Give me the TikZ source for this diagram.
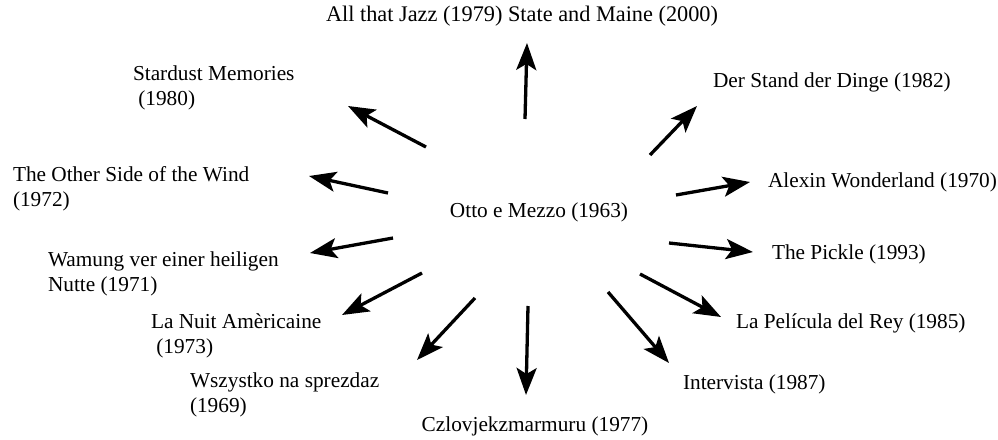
\documentclass[tikz,border=0pt]{standalone}
\usepackage{fontspec}
\setmainfont{Liberation Serif}
\usetikzlibrary{arrows.meta}
\begin{document}
\begin{tikzpicture}[x=1pt,y=-1pt,
  lbl/.style={inner sep=0pt,outer sep=0pt,align=left,anchor=base west,
    font=\fontsize{21.3}{25}\selectfont},
  arr/.style={line width=3.3pt,-{Stealth[length=27pt,width=20pt,inset=6pt]}}]
\useasboundingbox (0,0) rectangle (998,439);
% labels (multi-line labels: base = baseline of the last line)
\node[lbl,anchor=base,font=\fontsize{22.3}{25}\selectfont] (jazz) at (522,21) {All that Jazz (1979) State and Maine (2000)};
\node[lbl] (stardust) at (133,105) {Stardust Memories\\~(1980)};
\node[lbl] (other) at (13,206) {The Other Side of the Wind\\(1972)};
\node[lbl,anchor=base] (otto) at (539,217) {Otto e Mezzo (1963)};
\node[lbl] (stand) at (713,87) {Der Stand der Dinge (1982)};
\node[lbl] (alexin) at (768,187) {Alexin Wonderland (1970)};
\node[lbl] (wamung) at (48,291) {Wamung ver einer heiligen\\Nutte (1971)};
\node[lbl] (nuit) at (151,353) {La Nuit Amèricaine\\~(1973)};
\node[lbl] (wszystko) at (190,412) {Wszystko na sprezdaz\\(1969)};
\node[lbl,anchor=base] (czlov) at (535,431) {Czlovjekzmarmuru (1977)};
\node[lbl] (pickle) at (772,259) {The Pickle (1993)};
\node[lbl] (pelicula) at (736,328) {La Película del Rey (1985)};
\node[lbl] (intervista) at (683,389) {Intervista (1987)};
% arrow ends
\coordinate (t1) at (525,119);  \coordinate (h1) at (527,43);
\coordinate (t2) at (426,147);  \coordinate (h2) at (348,106);
\coordinate (t3) at (388,193);  \coordinate (h3) at (309,176);
\coordinate (t4) at (393,238);  \coordinate (h4) at (310,253);
\coordinate (t5) at (422,273);  \coordinate (h5) at (342,315);
\coordinate (t6) at (475,298);  \coordinate (h6) at (417,360);
\coordinate (t7) at (528,306);  \coordinate (h7) at (526,395);
\coordinate (t8) at (608,292);  \coordinate (h8) at (669,363);
\coordinate (t9) at (640,274);  \coordinate (h9) at (721,317);
\coordinate (t10) at (669,243); \coordinate (h10) at (753,252);
\coordinate (t11) at (676,195); \coordinate (h11) at (750,182);
\coordinate (t12) at (650,155); \coordinate (h12) at (697,106);
\foreach \i in {1,...,12} \draw[arr] (t\i) -- (h\i);
\end{tikzpicture}
\end{document}
